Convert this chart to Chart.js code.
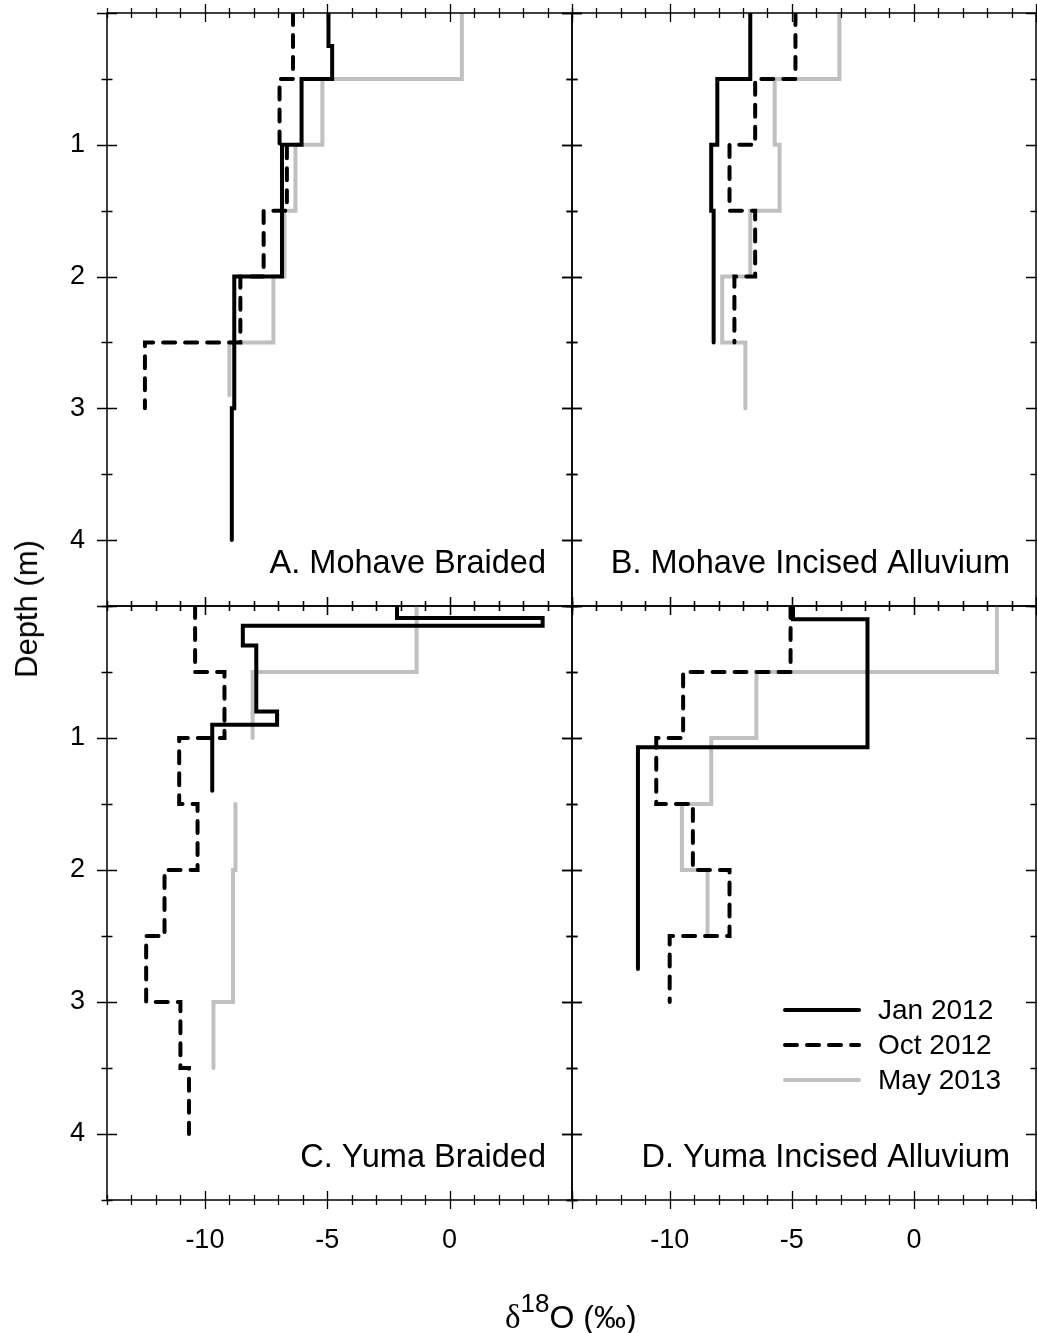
<!DOCTYPE html>
<html>
<head>
<meta charset="utf-8">
<title>Depth profiles of pore water d18O</title>
<script src="https://cdn.jsdelivr.net/npm/chart.js@4.4.1/dist/chart.umd.min.js"></script>
<style>
  body { margin: 0; background: #fff; }
  #wrap { position: relative; width: 1037px; height: 1333px; overflow: hidden; font-family: 'Liberation Sans', Arial, sans-serif; color: #000; }
  #wrap canvas { position: absolute; left: 0; top: 0; }
  #ytitle { position: absolute; left: 27px; top: 609px; transform: translate(-50%, -50%) rotate(-90deg); font-size: 31px; white-space: nowrap; }
  #xtitle { position: absolute; left: 505px; top: 1301px; font-size: 32px; line-height: 32px; white-space: nowrap; }
  #xtitle .delta { font-family: 'Liberation Serif', serif; font-size: 33px; }
  #xtitle sup { font-size: 26px; position: relative; top: 2px; vertical-align: top; line-height: 0; }
</style>
</head>
<body>
<div id="wrap">
  <canvas id="panelA" width="1037" height="1333"></canvas>
  <canvas id="panelB" width="1037" height="1333"></canvas>
  <canvas id="panelC" width="1037" height="1333"></canvas>
  <canvas id="panelD" width="1037" height="1333"></canvas>
  <div id="ytitle">Depth (m)</div>
  <div id="xtitle"><span class="delta">δ</span><sup>18</sup>O (‰)</div>
</div>
<script>
// axis labels
const xTickLabels = [-10, -5, 0];
const yTickLabels = [1, 2, 3, 4];
const seriesNames = ['Jan 2012', 'Oct 2012', 'May 2013'];

// each profile: depth breaks (m) and the d18O value of every interval between them
// A. Mohave Braided
const mbJanDepth = [0, 0.25, 0.5, 1, 2, 3, 4];
const mbJanValue = [-4.95, -4.8, -6.05, -6.85, -8.8, -8.9];
const mbOctDepth = [0, 0.5, 1, 1.5, 2, 2.5, 3];
const mbOctValue = [-6.4, -6.95, -6.65, -7.6, -8.55, -12.45];
const mbMayDepth = [0, 0.5, 1, 1.5, 2, 2.5, 2.9];
const mbMayValue = [0.5, -5.2, -6.3, -6.75, -7.2, -9.0];

// B. Mohave Incised Alluvium
const miJanDepth = [0, 0.5, 1, 1.5, 2.5];
const miJanValue = [-6.7, -8.05, -8.3, -8.2];
const miOctDepth = [0, 0.5, 1, 1.5, 2, 2.5];
const miOctValue = [-4.85, -6.5, -7.55, -6.5, -7.35];
const miMayDepth = [0, 0.5, 1, 1.5, 2, 2.5, 3];
const miMayValue = [-3.05, -5.7, -5.5, -6.7, -7.85, -6.9];

// C. Yuma Braided (null = no sample in that interval)
const ybJanDepth = [0, 0.09, 0.15, 0.3, 0.8, 0.9, 1.4];
const ybJanValue = [-2.15, 3.8, -8.45, -7.9, -7.05, -9.7];
const ybOctDepth = [0, 0.5, 1, 1.5, 2, 2.5, 3, 3.5, 4];
const ybOctValue = [-10.4, -9.2, -11.05, -10.3, -11.65, -12.4, -11.0, -10.65];
const ybMayDepth = [0, 0.5, 1, 1.5, 2, 3, 3.5];
const ybMayValue = [-1.35, -8.05, null, -8.75, -8.85, -9.65];

// D. Yuma Incised Alluvium
const yiJanDepth = [0, 0.1, 1.07, 2.75];
const yiJanValue = [-4.95, -1.9, -11.3];
const yiOctDepth = [0, 0.5, 1, 1.5, 2, 2.5, 3];
const yiOctValue = [-5.05, -9.45, -10.55, -9.05, -7.55, -10.0];
const yiMayDepth = [0, 0.5, 1, 1.5, 2, 2.5];
const yiMayValue = [3.4, -6.45, -8.3, -9.5, -8.45];

const PAGE_W = 1037, PAGE_H = 1333;
const FONT = "'Liberation Sans', Arial, sans-serif";

// turn interval values into the corner points of a step profile
function stepPoints(depths, values) {
  const pts = [];
  values.forEach((v, i) => {
    if (v === null) {
      pts.push({ x: null, y: null });
      return;
    }
    pts.push({ x: v, y: depths[i] }, { x: v, y: depths[i + 1] });
  });
  return pts;
}

const lineStyles = [
  { borderColor: '#000000', borderWidth: 4, borderDash: [] },
  { borderColor: '#000000', borderWidth: 4, borderDash: [12, 10] },
  { borderColor: '#c0c0c0', borderWidth: 4, borderDash: [] }
];

function makeDatasets(profiles) {
  return profiles.map((p, i) => Object.assign({
    label: seriesNames[i],
    data: stepPoints(p[0], p[1]),
    showLine: true,
    pointRadius: 0,
    tension: 0,
    borderCapStyle: 'round',
    borderJoinStyle: 'miter',
    spanGaps: false
  }, lineStyles[i]));
}

const isMajorX = v => Math.abs(v % 5) < 1e-9;
const isMajorY = v => Math.abs(v - Math.round(v)) < 1e-9;

// frame, crossing tick marks and the panel name
const panelFrame = {
  id: 'panelFrame',
  afterDatasetsDraw(chart, args, opts) {
    const { ctx, chartArea: a } = chart;
    const xs = chart.scales.x, ys = chart.scales.y;
    ctx.save();
    ctx.strokeStyle = '#000';
    ctx.lineWidth = 1.5;
    ctx.strokeRect(a.left, a.top, a.right - a.left, a.bottom - a.top);
    ctx.lineWidth = 1.3;
    ctx.beginPath();
    xs.ticks.forEach(t => {
      const px = Math.round(xs.getPixelForValue(t.value)) + 0.5;
      const h = isMajorX(t.value) ? 9 : 5;
      ctx.moveTo(px, a.top - h); ctx.lineTo(px, a.top + h);
      ctx.moveTo(px, a.bottom - h); ctx.lineTo(px, a.bottom + h);
    });
    ys.ticks.forEach(t => {
      const py = Math.round(ys.getPixelForValue(t.value)) + 0.5;
      const h = isMajorY(t.value) ? 10 : 5.5;
      ctx.moveTo(a.left - h, py); ctx.lineTo(a.left + h, py);
      ctx.moveTo(a.right - h, py); ctx.lineTo(a.right + h, py);
    });
    ctx.stroke();
    ctx.fillStyle = '#000';
    ctx.font = '32.5px ' + FONT;
    ctx.textAlign = 'right';
    ctx.textBaseline = 'alphabetic';
    ctx.fillText(opts.label, a.right - 26, a.bottom - 33);
    ctx.restore();
  }
};

// legend inside the lower right panel
const insetLegend = {
  id: 'insetLegend',
  afterDraw(chart, args, opts) {
    if (!opts.show) return;
    const { ctx, chartArea: a } = chart;
    ctx.save();
    chart.data.datasets.forEach((ds, i) => {
      const y = a.bottom - 190 + i * 35;
      ctx.strokeStyle = ds.borderColor;
      ctx.lineWidth = ds.borderWidth;
      ctx.lineCap = 'round';
      ctx.setLineDash(ds.borderDash);
      ctx.beginPath();
      ctx.moveTo(a.left + 213, y);
      ctx.lineTo(a.left + 287, y);
      ctx.stroke();
      ctx.setLineDash([]);
      ctx.fillStyle = '#000';
      ctx.font = '28px ' + FONT;
      ctx.textAlign = 'left';
      ctx.textBaseline = 'middle';
      ctx.fillText(ds.label, a.left + 306, y + 1);
    });
    ctx.restore();
  }
};

// fixed axis box, no extra room reserved for label overhang
function fixAxis(s, w, h) {
  if (w !== null) s.width = w;
  if (h !== null) s.height = h;
  s.paddingLeft = 0;
  s.paddingRight = 0;
  s.paddingTop = 0;
  s.paddingBottom = 0;
}

function makePanel(id, rect, label, profiles, showX, showY, showLegend) {
  const xAxisH = 80;
  new Chart(document.getElementById(id), {
    type: 'scatter',
    data: { datasets: makeDatasets(profiles) },
    options: {
      responsive: false,
      animation: false,
      events: [],
      layout: {
        autoPadding: false,
        padding: { left: 0, top: rect.top, right: PAGE_W - rect.right, bottom: PAGE_H - rect.bottom - xAxisH }
      },
      scales: {
        x: {
          type: 'linear',
          position: 'bottom',
          min: -14,
          max: 5,
          grid: { display: false, drawTicks: false },
          border: { display: false },
          ticks: {
            stepSize: 1,
            autoSkip: false,
            maxRotation: 0,
            padding: 24,
            color: '#000',
            font: { family: FONT, size: 27 },
            callback: v => (showX && xTickLabels.includes(v)) ? String(v) : ''
          },
          afterFit: s => fixAxis(s, null, xAxisH)
        },
        y: {
          type: 'linear',
          position: 'left',
          reverse: true,
          min: 0,
          max: 4.5,
          grid: { display: false, drawTicks: false },
          border: { display: false },
          ticks: {
            stepSize: 0.5,
            autoSkip: false,
            padding: 22,
            color: '#000',
            font: { family: FONT, size: 27 },
            callback: v => (showY && yTickLabels.includes(v)) ? String(v) : ''
          },
          afterFit: s => fixAxis(s, rect.left, null)
        }
      },
      plugins: {
        legend: { display: false },
        tooltip: { enabled: false },
        panelFrame: { label: label },
        insetLegend: { show: showLegend }
      }
    },
    plugins: [panelFrame, insetLegend]
  });
}

makePanel('panelA', { left: 107, top: 13, right: 572, bottom: 606 }, 'A. Mohave Braided',
  [[mbJanDepth, mbJanValue], [mbOctDepth, mbOctValue], [mbMayDepth, mbMayValue]], false, true, false);
makePanel('panelB', { left: 572, top: 13, right: 1036, bottom: 606 }, 'B. Mohave Incised Alluvium',
  [[miJanDepth, miJanValue], [miOctDepth, miOctValue], [miMayDepth, miMayValue]], false, false, false);
makePanel('panelC', { left: 107, top: 606, right: 572, bottom: 1200 }, 'C. Yuma Braided',
  [[ybJanDepth, ybJanValue], [ybOctDepth, ybOctValue], [ybMayDepth, ybMayValue]], true, true, false);
makePanel('panelD', { left: 572, top: 606, right: 1036, bottom: 1200 }, 'D. Yuma Incised Alluvium',
  [[yiJanDepth, yiJanValue], [yiOctDepth, yiOctValue], [yiMayDepth, yiMayValue]], true, false, true);
</script>
</body>
</html>
